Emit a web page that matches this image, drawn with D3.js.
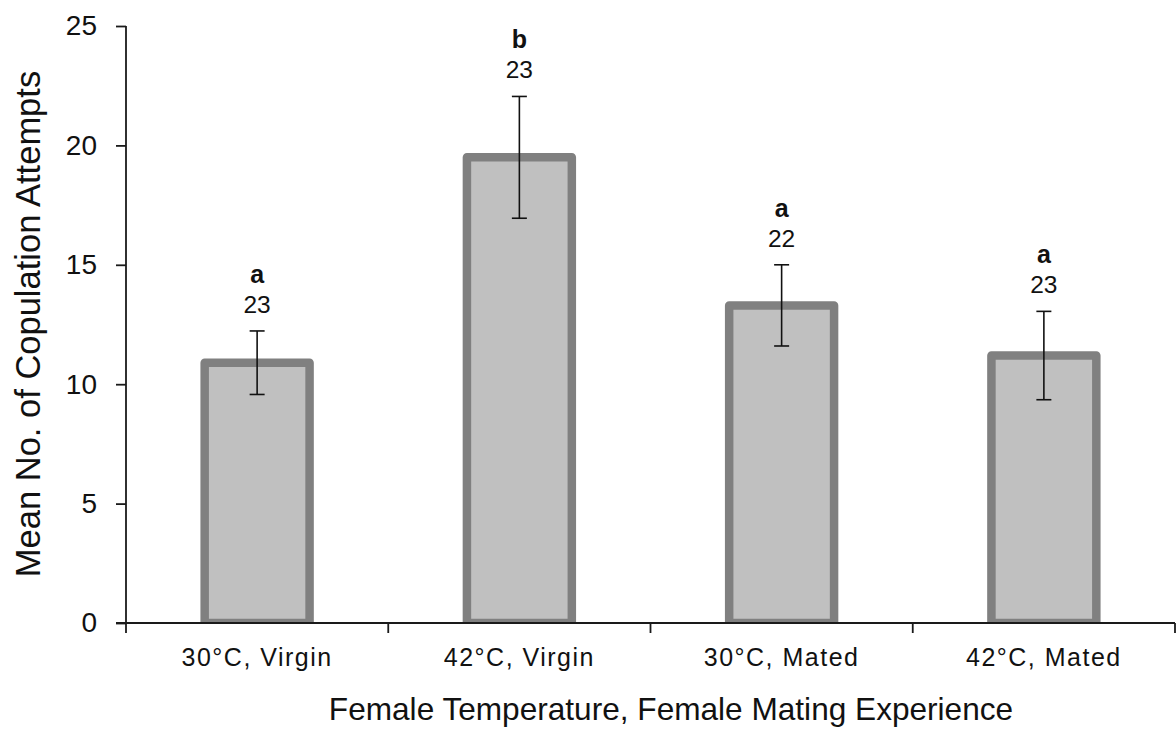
<!DOCTYPE html>
<html>
<head>
<meta charset="utf-8">
<script src="https://cdn.jsdelivr.net/npm/d3@7"></script>
<style>
  html, body { margin: 0; padding: 0; background: #fff; }
  svg { display: block; }
  text { font-family: "Liberation Sans", Arial, sans-serif; fill: #111; }
</style>
</head>
<body>
<svg id="chart" width="1176" height="729"></svg>
<script>
// Treatment groups and their summary statistics
const categories = ["30°C, Virgin", "42°C, Virgin", "30°C, Mated", "42°C, Mated"];
const means = [10.9, 19.5, 13.3, 11.2];
const errors = [1.33, 2.55, 1.7, 1.85];
const sampleSizes = ["23", "23", "22", "23"];
const groupLetters = ["a", "b", "a", "a"];
const yTicks = [0, 5, 10, 15, 20, 25];

const svg = d3.select("#chart");
const plotLeft = 126, plotRight = 1175, plotTop = 26, plotBottom = 623;

const x = d3.scaleBand()
  .domain(categories)
  .range([plotLeft, plotRight])
  .paddingInner(0.6)
  .paddingOuter(0.3);

const y = d3.scaleLinear().domain([0, 25]).range([plotBottom, plotTop]);

// Bars are clipped at the baseline so the border does not drop below the axis
svg.append("defs").append("clipPath").attr("id", "plot")
  .append("rect").attr("x", plotLeft).attr("y", 0)
  .attr("width", plotRight - plotLeft).attr("height", plotBottom);

const rows = categories.map((c, i) => ({ c, m: means[i], e: errors[i], n: sampleSizes[i], g: groupLetters[i] }));

svg.append("g").attr("clip-path", "url(#plot)")
  .selectAll("rect").data(rows).enter().append("rect")
  .attr("x", d => x(d.c))
  .attr("y", d => y(d.m))
  .attr("width", x.bandwidth())
  .attr("height", d => y(0) - y(d.m))
  .attr("fill", "#c0c0c0")
  .attr("stroke", "#808080")
  .attr("stroke-width", 8.5)
  .attr("stroke-linejoin", "round");

// Error bars
const eb = svg.append("g").attr("stroke", "#111").attr("stroke-width", 1.6);
rows.forEach(d => {
  const cx = x(d.c) + x.bandwidth() / 2;
  eb.append("line").attr("x1", cx).attr("x2", cx).attr("y1", y(d.m + d.e)).attr("y2", y(d.m - d.e));
  [d.m + d.e, d.m - d.e].forEach(v => {
    eb.append("line").attr("x1", cx - 7.5).attr("x2", cx + 7.5).attr("y1", y(v)).attr("y2", y(v));
  });
});

// Sample sizes and significance letters above the error bars
const lab = svg.append("g").attr("text-anchor", "middle");
rows.forEach(d => {
  const cx = x(d.c) + x.bandwidth() / 2;
  const t = y(d.m + d.e);
  lab.append("text").attr("x", cx).attr("y", t - 18).attr("font-size", 24.5).text(d.n);
  lab.append("text").attr("x", cx).attr("y", t - 48).attr("font-size", 25).attr("font-weight", "bold").text(d.g);
});

// Y axis
const yAxis = svg.append("g").attr("transform", `translate(${plotLeft},0)`)
  .call(d3.axisLeft(y).tickValues(yTicks).tickSize(10).tickPadding(19));
yAxis.select(".domain").attr("d", `M0,${plotTop}V${plotBottom}`).attr("stroke", "#1a1a1a").attr("stroke-width", 1.8);
yAxis.selectAll(".tick line").attr("stroke", "#1a1a1a").attr("stroke-width", 1.8);
yAxis.selectAll(".tick text").attr("font-size", 28).attr("fill", "#111")
  .attr("font-family", "'Liberation Sans', Arial, sans-serif");

// X axis with ticks at the group boundaries
const xg = svg.append("g");
xg.append("line").attr("x1", plotLeft - 10).attr("x2", plotRight).attr("y1", plotBottom).attr("y2", plotBottom)
  .attr("stroke", "#1a1a1a").attr("stroke-width", 1.8);
d3.range(categories.length + 1).forEach(i => {
  const bx = plotLeft + i * x.step();
  xg.append("line").attr("x1", bx).attr("x2", bx).attr("y1", plotBottom).attr("y2", plotBottom + 10)
    .attr("stroke", "#1a1a1a").attr("stroke-width", 1.8);
});
xg.selectAll("text.cat").data(categories).enter().append("text")
  .attr("class", "cat")
  .attr("x", d => x(d) + x.bandwidth() / 2)
  .attr("y", 666)
  .attr("text-anchor", "middle")
  .attr("font-size", 25)
  .attr("letter-spacing", 1.5)
  .text(d => d);

// Axis titles
svg.append("text").attr("x", 671).attr("y", 720).attr("text-anchor", "middle")
  .attr("font-size", 31.6).text("Female Temperature, Female Mating Experience");
svg.append("text").attr("transform", "translate(40,324) rotate(-90)").attr("text-anchor", "middle")
  .attr("font-size", 34.5).text("Mean No. of Copulation Attempts");
</script>
</body>
</html>
